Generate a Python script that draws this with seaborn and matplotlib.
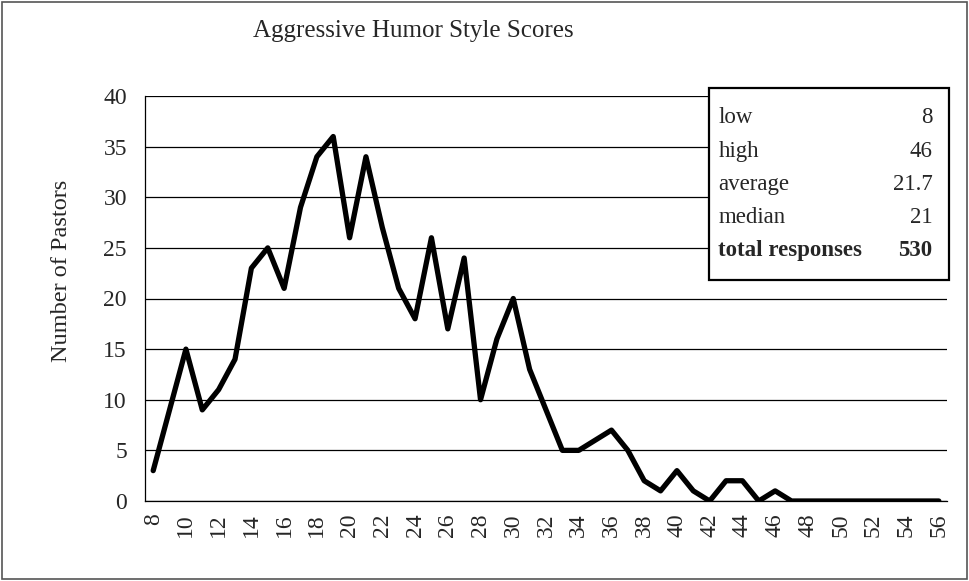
"""
Aggressive humor style scores - line chart of number of pastors per score.
"""

import matplotlib
matplotlib.use("Agg")
import matplotlib.pyplot as plt
import matplotlib.patches as mpatches
import seaborn as sns
import pandas as pd
import numpy as np

# Data
scores = list(range(8, 57))
pastors = [3, 9, 15, 9, 11, 14, 23, 25, 21, 29, 34, 36, 26, 34, 27, 21, 18, 26, 17, 24,
           10, 16, 20, 13, 9, 5, 5, 6, 7, 5, 2, 1, 3, 1, 0, 2, 2, 0, 1, 0,
           0, 0, 0, 0, 0, 0, 0, 0, 0]
stat_labels = ["low", "high", "average", "median", "total responses"]
stat_values = ["8", "46", "21.7", "21", "530"]

df = pd.DataFrame({"score": scores, "pastors": pastors})

sns.set_style("white")
plt.rcParams['font.family'] = ['Liberation Serif', 'DejaVu Serif']

fig = plt.figure(figsize=(9.69, 5.81), dpi=100)
ax = fig.add_axes([145 / 969, 1 - 501 / 581, 802 / 969, 405 / 581])

sns.lineplot(data=df, x="score", y="pastors", ax=ax, color="black", linewidth=3.8)

ax.set_xlim(7.5, 56.5)
ax.set_ylim(0, 40)
ax.set_yticks(np.arange(0, 41, 5))
ax.set_xticks(scores[::2])
ax.set_xticks(np.arange(7.5, 57, 1), minor=True)
ax.tick_params(axis='x', which='major', length=0, labelsize=17, labelrotation=90, pad=9)
ax.tick_params(axis='x', which='minor', length=5, width=0.8, direction='inout', color='black')
ax.tick_params(axis='y', which='major', length=6, width=0.8, direction='inout',
               color='black', labelsize=17, pad=10)
ax.grid(True, axis='y', color='black', linewidth=0.9)
ax.set_axisbelow(True)

for side in ['top', 'right']:
    ax.spines[side].set_visible(False)
for side in ['left', 'bottom']:
    ax.spines[side].set_color('black')
    ax.spines[side].set_linewidth(0.9)

ax.set_xlabel("")
ax.set_ylabel("")
fig.text(62 / 969, 1 - 271 / 581, "Number of Pastors", rotation=90,
         ha='center', va='center', fontsize=17.5)
fig.text(413 / 969, 1 - 31 / 581, "Aggressive Humor Style Scores",
         ha='center', va='center', fontsize=18)

# Stats box
box = mpatches.Rectangle((0.703, 0.545), 0.3, 0.475, transform=ax.transAxes,
                         facecolor='white', edgecolor='black', linewidth=1.6,
                         clip_on=False, zorder=5)
ax.add_patch(box)
row_y = [0.946, 0.864, 0.782, 0.700, 0.618]
for lab, val, yy in zip(stat_labels, stat_values, row_y):
    weight = 'bold' if lab == "total responses" else 'normal'
    ax.text(0.715, yy, lab, transform=ax.transAxes, ha='left', va='center',
            fontsize=16.5, fontweight=weight, zorder=6)
    ax.text(0.982, yy, val, transform=ax.transAxes, ha='right', va='center',
            fontsize=16.5, fontweight=weight, zorder=6)

# Chart area border
fig.patches.append(mpatches.Rectangle((0.002, 0.003), 0.996, 0.994, transform=fig.transFigure,
                                      fill=False, edgecolor='#555555', linewidth=1.2))

plt.savefig("out.png", dpi=100)
